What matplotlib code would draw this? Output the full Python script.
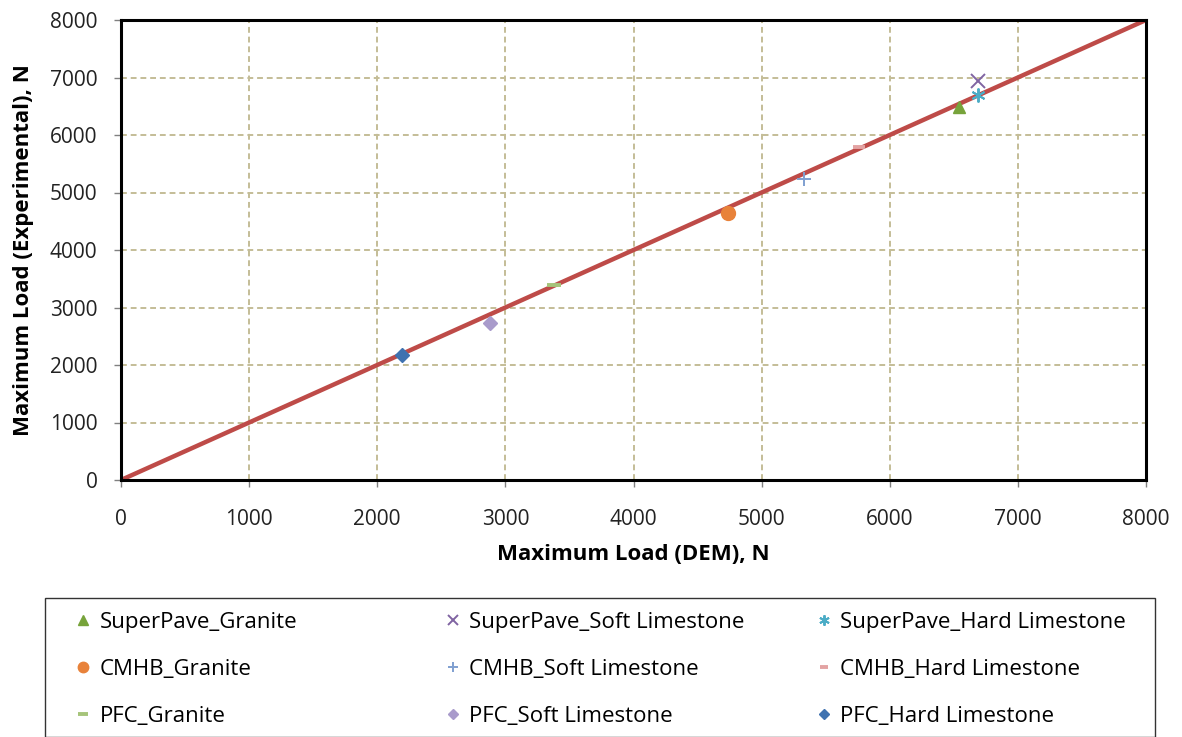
import matplotlib
matplotlib.use("Agg")
import matplotlib.pyplot as plt
from matplotlib.patches import Rectangle

plt.rcParams['font.family'] = ['Open Sans', 'DejaVu Sans']

# Data (Maximum Load DEM vs Experimental, N)
series_names = [
    "SuperPave_Granite", "SuperPave_Soft Limestone", "SuperPave_Hard Limestone",
    "CMHB_Granite", "CMHB_Soft Limestone", "CMHB_Hard Limestone",
    "PFC_Granite", "PFC_Soft Limestone", "PFC_Hard Limestone",
]
dem_values = [6540, 6690, 6690, 4740, 5330, 5760, 3380, 2880, 2195]
exp_values = [6490, 6940, 6700, 4640, 5230, 5800, 3400, 2730, 2175]
line_x = [0, 8000]
line_y = [0, 8000]
ticks = [0, 1000, 2000, 3000, 4000, 5000, 6000, 7000, 8000]

markers = ['^', 'x', (6, 2, 0), 'o', '+', '_', '_', 'D', 'D']
colors = ['#77A33B', '#8064A2', '#4BACC6', '#E8823A', '#7F9FD0', '#E3A3A3',
          '#A6C47A', '#A99BCB', '#3F72B0']
sizes = [9, 10, 10, 10, 10, 8, 10, 7, 7]

W, H = 1182, 737
fig = plt.figure(figsize=(W/100, H/100), dpi=100)
ax = fig.add_axes([121/W, 1-480/H, (1146-121)/W, (480-20)/H])

ax.plot(line_x, line_y, color='#BE4B48', lw=3.2, zorder=2)

handles = []
for name, xv, yv, m, c, s in zip(series_names, dem_values, exp_values, markers, colors, sizes):
    if m in ('x', '+') or isinstance(m, tuple):
        mew = 1.4
    elif m == '_':
        mew = 2.8
    else:
        mew = 1.0
    h, = ax.plot([xv], [yv], linestyle='none', marker=m, color=c, markersize=s,
                 markeredgewidth=mew, label=name, zorder=3)
    handles.append(h)

ax.set_xlim(0, 8000)
ax.set_ylim(0, 8000)
ax.set_xticks(ticks)
ax.set_yticks(ticks)
ax.tick_params(axis='both', labelsize=15, length=5, width=1, color='#808080',
               labelcolor='#222222', pad=12)
ax.tick_params(axis='x', pad=16)
ax.grid(True, color='#C4BD97', linestyle=(0, (3, 2)), linewidth=1.4)
ax.set_axisbelow(True)
for sp in ax.spines.values():
    sp.set_linewidth(2.2)
    sp.set_color('black')

ax.set_xlabel("Maximum Load (DEM), N", fontsize=16, fontweight='bold', labelpad=10)
ax.set_ylabel("Maximum Load (Experimental), N", fontsize=16, fontweight='bold', labelpad=11)

# Legend frame
fig.patches.append(Rectangle((45/W, 0.5/H), (1155-45)/W, (737-598)/H,
                             transform=fig.transFigure, fill=False,
                             edgecolor='#333333', linewidth=1.0))

# Three legend columns (row-major like the reference)
col_x = [75, 445, 816]
for ci in range(3):
    idx = [ci, ci + 3, ci + 6]
    fig.legend([handles[i] for i in idx], [series_names[i] for i in idx],
               loc='upper left', bbox_to_anchor=(col_x[ci]/W, 1-612/H),
               frameon=False, fontsize=16, handlelength=0.75, handletextpad=0.35,
               labelspacing=1.17, borderpad=0, borderaxespad=0, markerscale=0.75)

fig.savefig("out.png", dpi=100)
